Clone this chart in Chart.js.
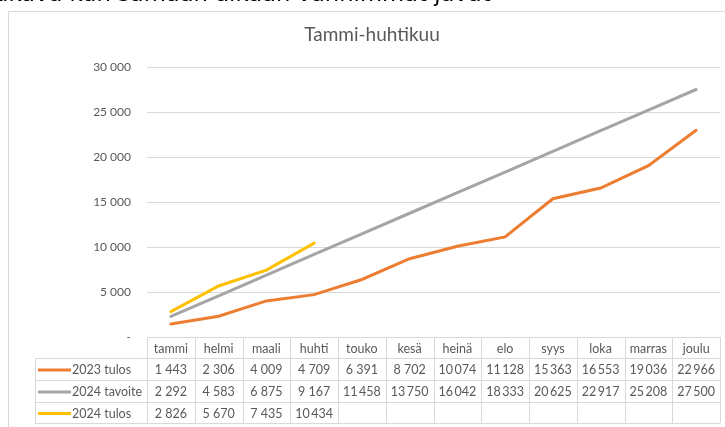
<!DOCTYPE html>
<html>
<head>
<meta charset="utf-8">
<script src="https://cdn.jsdelivr.net/npm/chart.js@4"></script>
<style>
  html, body { margin: 0; padding: 0; background: #fff; overflow: hidden; }
  #wrap { position: relative; width: 725px; height: 427px; }
  #cut { position: absolute; left: -6px; top: -20px; font: 22.7px "DejaVu Sans", sans-serif; color: #000; white-space: nowrap; }
  canvas { position: absolute; left: 0; top: 0; }
</style>
</head>
<body>
<div id="wrap">
  <canvas id="chart" width="725" height="427"></canvas>
  <div id="cut">ukava kun samaan aikaan vanhimmat javat</div>
</div>
<script>
const months = ["tammi", "helmi", "maali", "huhti", "touko", "kesä", "heinä", "elo", "syys", "loka", "marras", "joulu"];
const tulos2023 = [1443, 2306, 4009, 4709, 6391, 8702, 10074, 11128, 15363, 16553, 19036, 22966];
const tavoite2024 = [2292, 4583, 6875, 9167, 11458, 13750, 16042, 18333, 20625, 22917, 25208, 27500];
const tulos2024 = [2826, 5670, 7435, 10434];
const seriesNames = ["2023 tulos", "2024 tavoite", "2024 tulos"];
const seriesColors = ["#ED7D31", "#A5A5A5", "#FFC000"];
const chartTitle = "Tammi-huhtikuu";

const FONT = "Lato, 'Open Sans', sans-serif";
const TEXT = "#595959";
const GRID = "#d9d9d9";

const fmt = (v) => {
  const s = String(v);
  const sep = s.length > 4 ? "\u2009" : " ";
  return s.replace(/\B(?=(\d{3})+(?!\d))/g, sep);
};

// title, frame and the data table under the plot
const tablePlugin = {
  id: "dataTable",
  afterDraw(chart) {
    const ctx = chart.ctx;
    const x = chart.scales.x;
    const area = chart.chartArea;
    const step = x.getPixelForValue(1) - x.getPixelForValue(0);
    const left = area.left;
    const right = area.right;
    const top = area.bottom;
    const rows = [top, top + 21, top + 43, top + 65, top + 86];
    const legendLeft = 35;

    ctx.save();
    // frame
    ctx.strokeStyle = GRID;
    ctx.lineWidth = 1;
    ctx.beginPath();
    ctx.moveTo(8.5, 430);
    ctx.lineTo(8.5, 11.5);
    ctx.lineTo(730, 11.5);
    ctx.stroke();

    // title
    ctx.fillStyle = TEXT;
    ctx.font = "19px " + FONT;
    ctx.textAlign = "center";
    ctx.textBaseline = "middle";
    ctx.fillText(chartTitle, 372, 35);

    // table grid
    ctx.beginPath();
    ctx.moveTo(left, rows[0] + 0.5);
    ctx.lineTo(right, rows[0] + 0.5);
    for (let r = 1; r < rows.length; r++) {
      ctx.moveTo(legendLeft, Math.round(rows[r]) + 0.5);
      ctx.lineTo(right, Math.round(rows[r]) + 0.5);
    }
    for (let i = 0; i <= months.length; i++) {
      const px = Math.round(left + i * step) + 0.5;
      ctx.moveTo(px, rows[0]);
      ctx.lineTo(px, rows[4]);
    }
    ctx.moveTo(legendLeft + 0.5, rows[1]);
    ctx.lineTo(legendLeft + 0.5, rows[4]);
    ctx.stroke();

    // header
    ctx.font = "12.5px " + FONT;
    ctx.fillStyle = TEXT;
    months.forEach((m, i) => {
      ctx.fillText(m, x.getPixelForValue(i), (rows[0] + rows[1]) / 2 + 1);
    });

    // rows
    const series = [tulos2023, tavoite2024, tulos2024];
    series.forEach((vals, r) => {
      const cy = (rows[r + 1] + rows[r + 2]) / 2 + 1;
      ctx.strokeStyle = seriesColors[r];
      ctx.lineWidth = 3;
      ctx.beginPath();
      ctx.moveTo(38, cy);
      ctx.lineTo(71, cy);
      ctx.stroke();
      ctx.textAlign = "left";
      ctx.fillStyle = TEXT;
      ctx.fillText(seriesNames[r], 72, cy);
      ctx.textAlign = "center";
      vals.forEach((v, i) => {
        ctx.fillText(fmt(v), x.getPixelForValue(i), cy);
      });
    });
    ctx.restore();
  },
};

new Chart(document.getElementById("chart"), {
  type: "line",
  data: {
    labels: months,
    datasets: [
      { label: seriesNames[0], data: tulos2023, borderColor: seriesColors[0], order: 2 },
      { label: seriesNames[1], data: tavoite2024, borderColor: seriesColors[1], order: 1 },
      { label: seriesNames[2], data: tulos2024, borderColor: seriesColors[2], order: 0 },
    ],
  },
  options: {
    responsive: false,
    animation: false,
    events: [],
    layout: { padding: { left: 0, right: 5, top: 67, bottom: 90 } },
    elements: {
      line: { borderWidth: 3, tension: 0, borderCapStyle: "round" },
      point: { radius: 0 },
    },
    plugins: {
      legend: { display: false },
      title: { display: false },
      tooltip: { enabled: false },
    },
    scales: {
      x: { display: false, offset: true },
      y: {
        min: 0,
        max: 30000,
        afterFit(scale) { scale.width = 147; },
        ticks: {
          stepSize: 5000,
          padding: 16,
          color: TEXT,
          font: { family: FONT, size: 12 },
          callback: (v) => (v === 0 ? "-" : fmt(v).replace("\u2009", " ")),
        },
        grid: { color: GRID, drawTicks: false },
        border: { display: false },
      },
    },
  },
  plugins: [tablePlugin],
});
</script>
</body>
</html>
